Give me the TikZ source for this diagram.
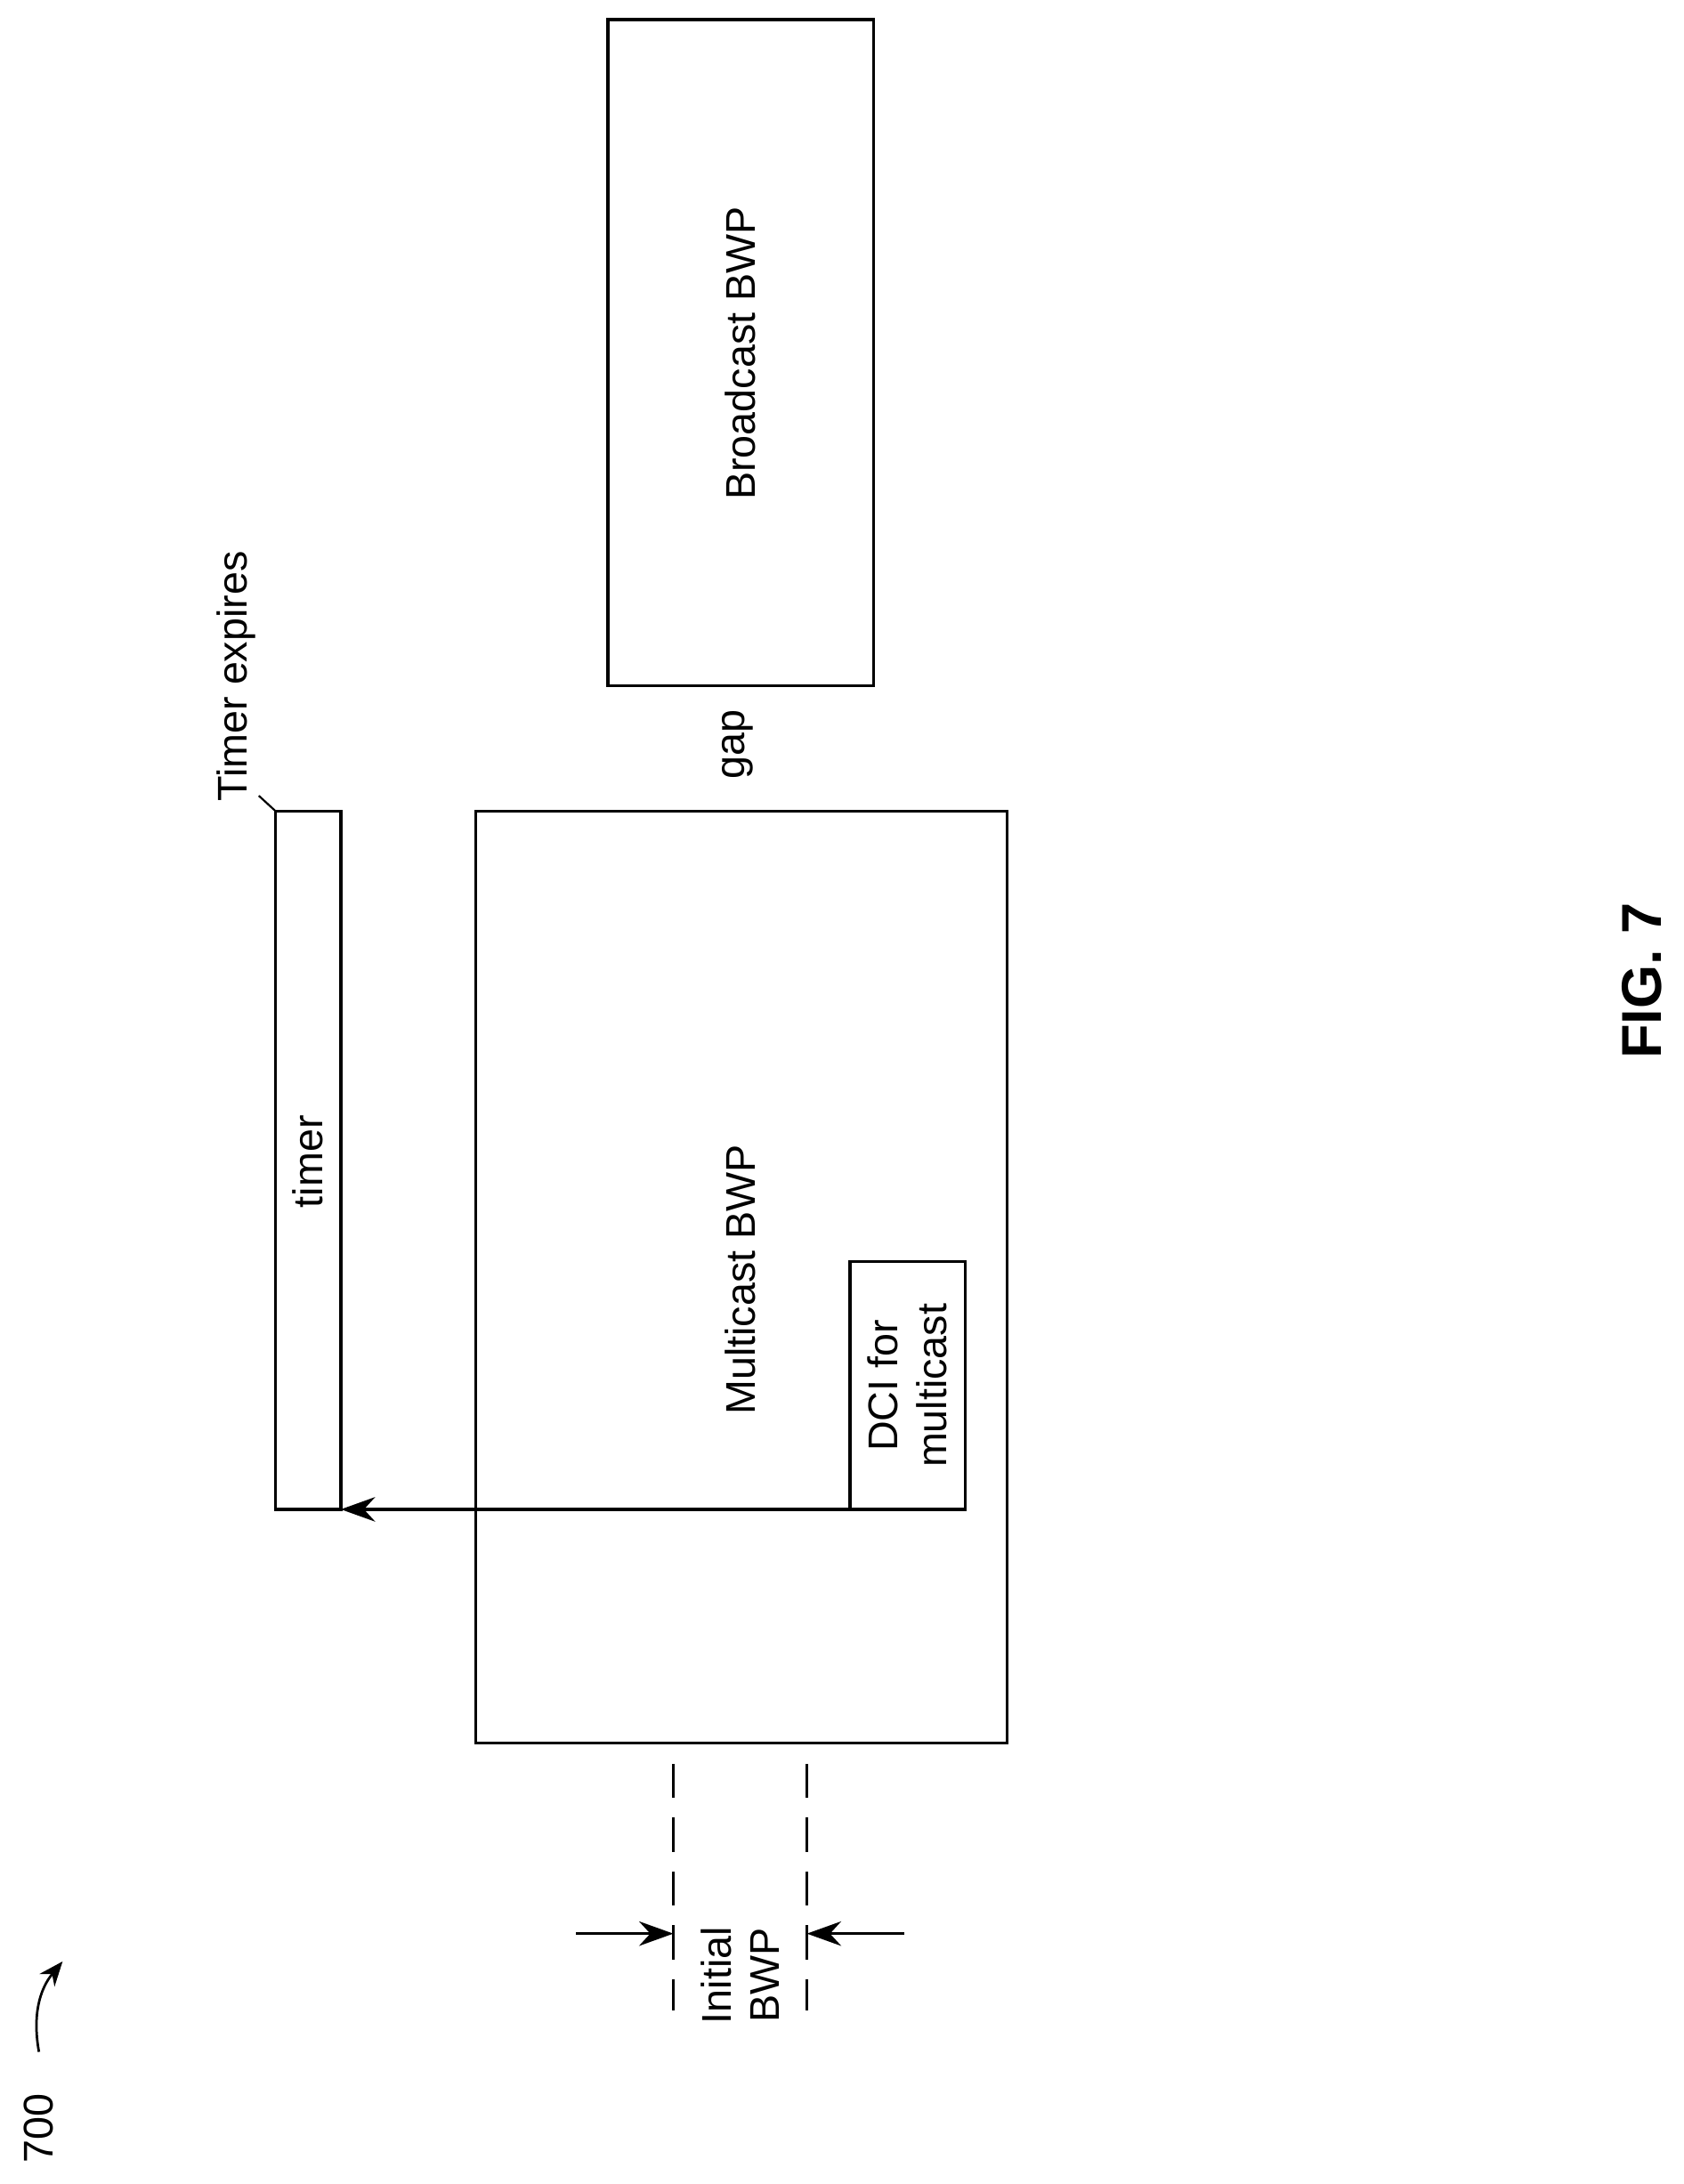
\documentclass[tikz,border=0pt]{standalone}
\usepackage{fontspec}
\setmainfont{Liberation Sans}
\usetikzlibrary{positioning,arrows.meta}
\tikzset{
  lbl/.style={font=\fontsize{17}{20}\selectfont,rotate=90,align=center},
  box/.style={draw,line width=1.2pt}
}
\begin{document}
\begin{tikzpicture}[x=0.02cm,y=-0.02cm,line width=1.2pt]
\useasboundingbox (0,0) rectangle (1210,1570);
\draw[box] (437,14) rectangle (628,493);
\node[lbl] (bc) at (532,254) {Broadcast BWP};
\node[lbl] (gap) at (530,535) {gap};
\draw[box] (342,583) rectangle (724,1253);
\node[lbl] (mc) at (532,920) {Multicast BWP};
\draw[box] (611,907) rectangle (694,1085);
\node[lbl] (dci) at (652,996) {DCI for\\multicast};
\draw[box] (198,583) rectangle (245,1085);
\node[lbl] (tm) at (221,835) {timer};
\node[lbl,anchor=west] (exp) at (170,583) {Timer expires};
\draw[line width=0.8pt] (198,583) -- (186,572);
\coordinate (dcis) at (611,1085);
\coordinate (tme) at (245,1085);
\draw[-{Stealth[length=14pt,width=10pt]}] (dcis) -- (tme);
% initial BWP
\draw[dashed,dash pattern=on 14pt off 8pt] (484,1268) -- (484,1445);
\draw[dashed,dash pattern=on 14pt off 8pt] (580,1268) -- (580,1445);
\coordinate (la) at (414,1390);
\coordinate (lb) at (484,1390);
\coordinate (ra) at (650,1390);
\coordinate (rb) at (580,1390);
\draw[-{Stealth[length=14pt,width=10pt]}] (la) -- (lb);
\draw[-{Stealth[length=14pt,width=10pt]}] (ra) -- (rb);
\node[lbl] (ini) at (532,1420) {Initial\\BWP};
\node[lbl] (num) at (28,1530) {700};
\draw[-{Stealth[length=10pt,width=8pt]},line width=1pt] (28,1475) to[bend left=25] (45,1410);
\node[lbl,font=\fontsize{23}{26}\selectfont\bfseries] (fig) at (1180,705) {FIG. 7};
\end{tikzpicture}
\end{document}
